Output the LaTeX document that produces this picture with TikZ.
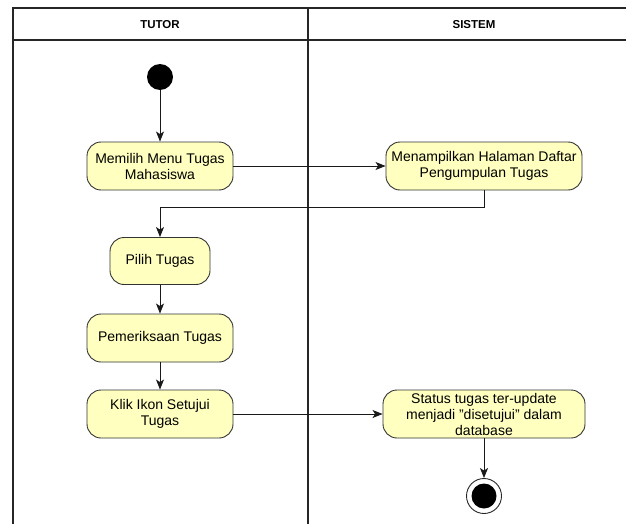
\documentclass[tikz,border=0pt]{standalone}
\usepackage{fontspec}
\setmainfont{Liberation Sans}
\usetikzlibrary{arrows.meta}
\definecolor{actfill}{HTML}{FFFFC0}
\definecolor{actline}{HTML}{333333}
\begin{document}
\begin{tikzpicture}[x=1pt,y=-1pt,
  lane/.style={line width=1.2pt,draw=black!85},
  act/.style={draw=actline,fill=actfill,line width=0.9pt,rounded corners=14pt,
    align=center,inner sep=0pt,font=\fontsize{14}{16}\selectfont},
  flow/.style={line width=0.9pt,draw=black!90,
    -{Stealth[length=10pt,width=8pt,inset=2.5pt]}},
  hdr/.style={font=\fontsize{11.5}{13}\selectfont\bfseries}]
\useasboundingbox (0,0) rectangle (626,524);
\fill[white] (0,0) rectangle (626,524);

% swimlane frame
\draw[lane] (626,8) -- (13,8) -- (13,524);
\draw[lane] (13,40) -- (626,40);
\draw[lane] (308,8) -- (308,524);
\node[hdr] (htutor) at (160,25) {TUTOR};
\node[hdr] (hsistem) at (474,25) {SISTEM};

% activities
\node[circle,fill=black,minimum size=26pt,inner sep=0pt] (start) at (160,77) {};
\node[act,minimum width=146pt,minimum height=48pt] (menu) at (160,166)
  {Memilih Menu Tugas\\Mahasiswa};
\node[act,minimum width=196pt,minimum height=48pt] (tampil) at (484,166)
  {Menampilkan Halaman Daftar\\Pengumpulan Tugas};
\node[act,minimum width=100pt,minimum height=47pt] (pilih) at (160,261)
  {Pilih Tugas};
\node[act,minimum width=146pt,minimum height=48pt] (periksa) at (160,338)
  {Pemeriksaan Tugas};
\node[act,minimum width=146pt,minimum height=48pt] (klik) at (160,414)
  {Klik Ikon Setujui\\Tugas};
\node[act,minimum width=202pt,minimum height=48pt] (status) at (484,414)
  {Status tugas ter-update\\menjadi "disetujui" dalam\\database};
\node[circle,draw=black!85,line width=0.9pt,fill=white,minimum size=35pt,inner sep=0pt] (final) at (484,496) {};
\fill[black] (final.center) circle (12.5pt);

% control flow
\draw[flow] (start) -- (menu);
\draw[flow] (menu) -- (tampil);
\draw[flow] (tampil.south) |- (160,207) -- (pilih.north);
\draw[flow] (pilih) -- (periksa);
\draw[flow] (periksa) -- (klik);
\draw[flow] (klik) -- (status);
\draw[flow] (status) -- (final);
\end{tikzpicture}
\end{document}
